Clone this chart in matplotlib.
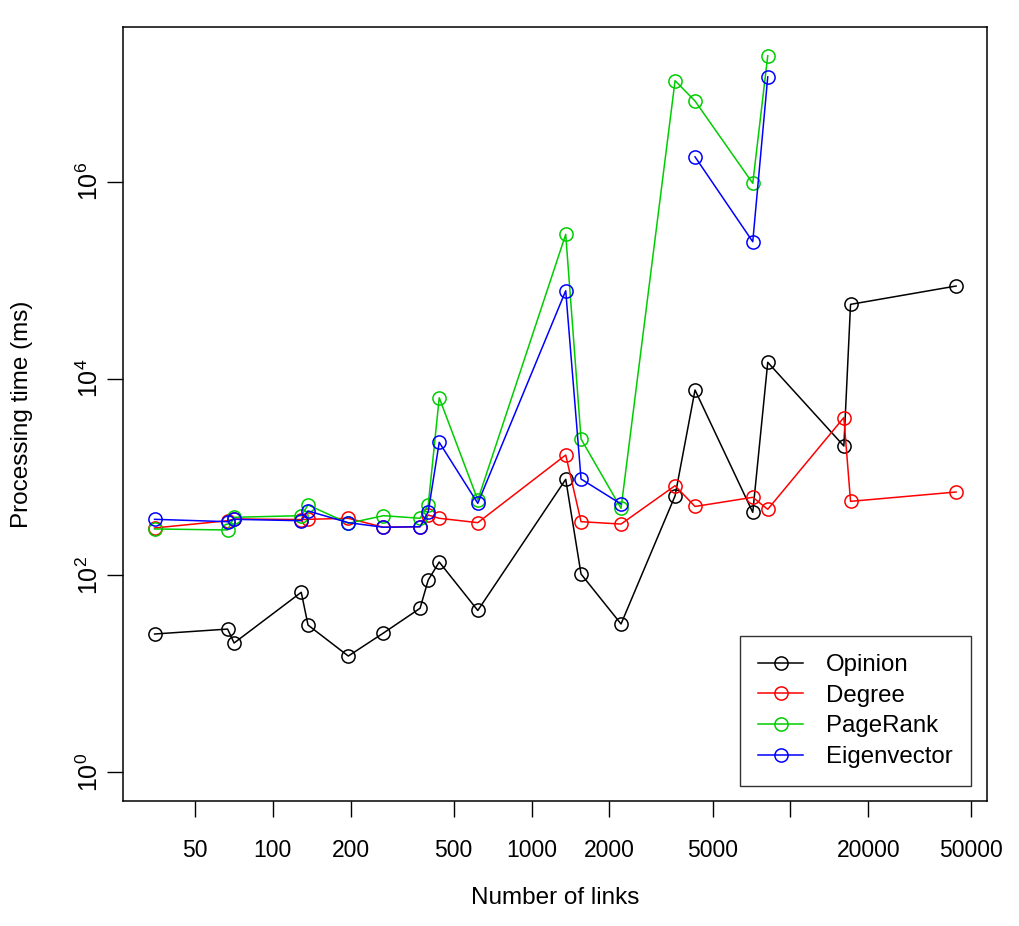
import numpy as np
import matplotlib
matplotlib.use("Agg")
import matplotlib.pyplot as plt
from matplotlib.ticker import FixedLocator, FixedFormatter, NullLocator

plt.rcParams['font.family'] = ['Liberation Sans', 'DejaVu Sans']
plt.rcParams['mathtext.fontset'] = 'custom'
plt.rcParams['mathtext.rm'] = 'Liberation Sans'
plt.rcParams['mathtext.it'] = 'Liberation Sans'

links = [35, 67, 71, 129, 137, 196, 268, 371, 399, 440, 620, 1355, 1553, 2216,
         3583, 4279, 7150, 8170, 16075, 17060, 43600]

opinion = [25.3, 28.4, 20.5, 67.2, 31.2, 15.1, 25.9, 46.2, 89.6, 136.5, 43.9,
           946, 103, 32.0, 643, 7660, 437, 14650, 2064, 56900, 87400]
degree = [303, 359, 374, 369, 371, 380, 308, 312, 410, 380, 343,
          1672, 351, 332, 815, 501, 621, 469, 4020, 565, 703]
pagerank = [296, 289, 389, 404, 519, 338, 404, 380, 519, 6390, 583,
            293000, 2432, 480, 1.07e7, 6.65e6, 9.68e5, 1.92e7, np.nan, np.nan, np.nan]
eigenvector = [371, 351, 371, 359, 451, 343, 308, 312, 443, 2250, 540,
               78300, 953, 531, np.nan, 1.80e6, 2.466e5, 1.17e7, np.nan, np.nan, np.nan]

series_names = ["Opinion", "Degree", "PageRank", "Eigenvector"]
series_colors = ["black", "#FF0000", "#00CD00", "#0000FF"]

xticks = [50, 100, 200, 500, 1000, 2000, 5000, 10000, 20000, 50000]
xticklabels = ["50", "100", "200", "500", "1000", "2000", "5000", "", "20000", "50000"]
yticks = [1, 1e2, 1e4, 1e6]
yticklabels = [r"$10^0$", r"$10^2$", r"$10^4$", r"$10^6$"]

fig = plt.figure(figsize=(10.2, 9.26), dpi=100)
ax = fig.add_axes([0.1203, 0.1353, 0.8471, 0.8355])

for name, vals, col in zip(series_names, [opinion, degree, pagerank, eigenvector], series_colors):
    ax.plot(links, vals, color=col, lw=1.1, marker='o', markersize=9.5,
            markerfacecolor='none', markeredgecolor=col, markeredgewidth=1.1,
            label=name)

ax.set_xscale('log')
ax.set_yscale('log')
ax.set_xlim(10**1.421, 10**4.758)
ax.set_ylim(10**-0.292, 10**7.575)

ax.xaxis.set_major_locator(FixedLocator(xticks))
ax.xaxis.set_major_formatter(FixedFormatter(xticklabels))
ax.xaxis.set_minor_locator(NullLocator())
ax.yaxis.set_major_locator(FixedLocator(yticks))
ax.yaxis.set_major_formatter(FixedFormatter(yticklabels))
ax.yaxis.set_minor_locator(NullLocator())

ax.tick_params(axis='x', length=11.5, width=1.0, labelsize=16.5, pad=16)
ax.tick_params(axis='y', length=11.5, width=1.0, labelsize=18, pad=3,
               labelrotation=90)
for lbl in ax.get_yticklabels():
    lbl.set_verticalalignment('center')

for sp in ax.spines.values():
    sp.set_linewidth(1.1)

ax.set_xlabel("Number of links", fontsize=17.5, labelpad=18)
ax.set_ylabel("Processing time (ms)", fontsize=17.5, labelpad=31)

leg = ax.legend(loc='lower right', bbox_to_anchor=(0.9818, 0.019),
                bbox_transform=ax.transAxes, borderaxespad=0,
                fontsize=17.3, frameon=True, fancybox=False,
                edgecolor='black', handlelength=1.9, handletextpad=0.95,
                labelspacing=0.36, borderpad=0.75)
leg.get_frame().set_linewidth(1.0)

fig.savefig("out.png", dpi=100)
